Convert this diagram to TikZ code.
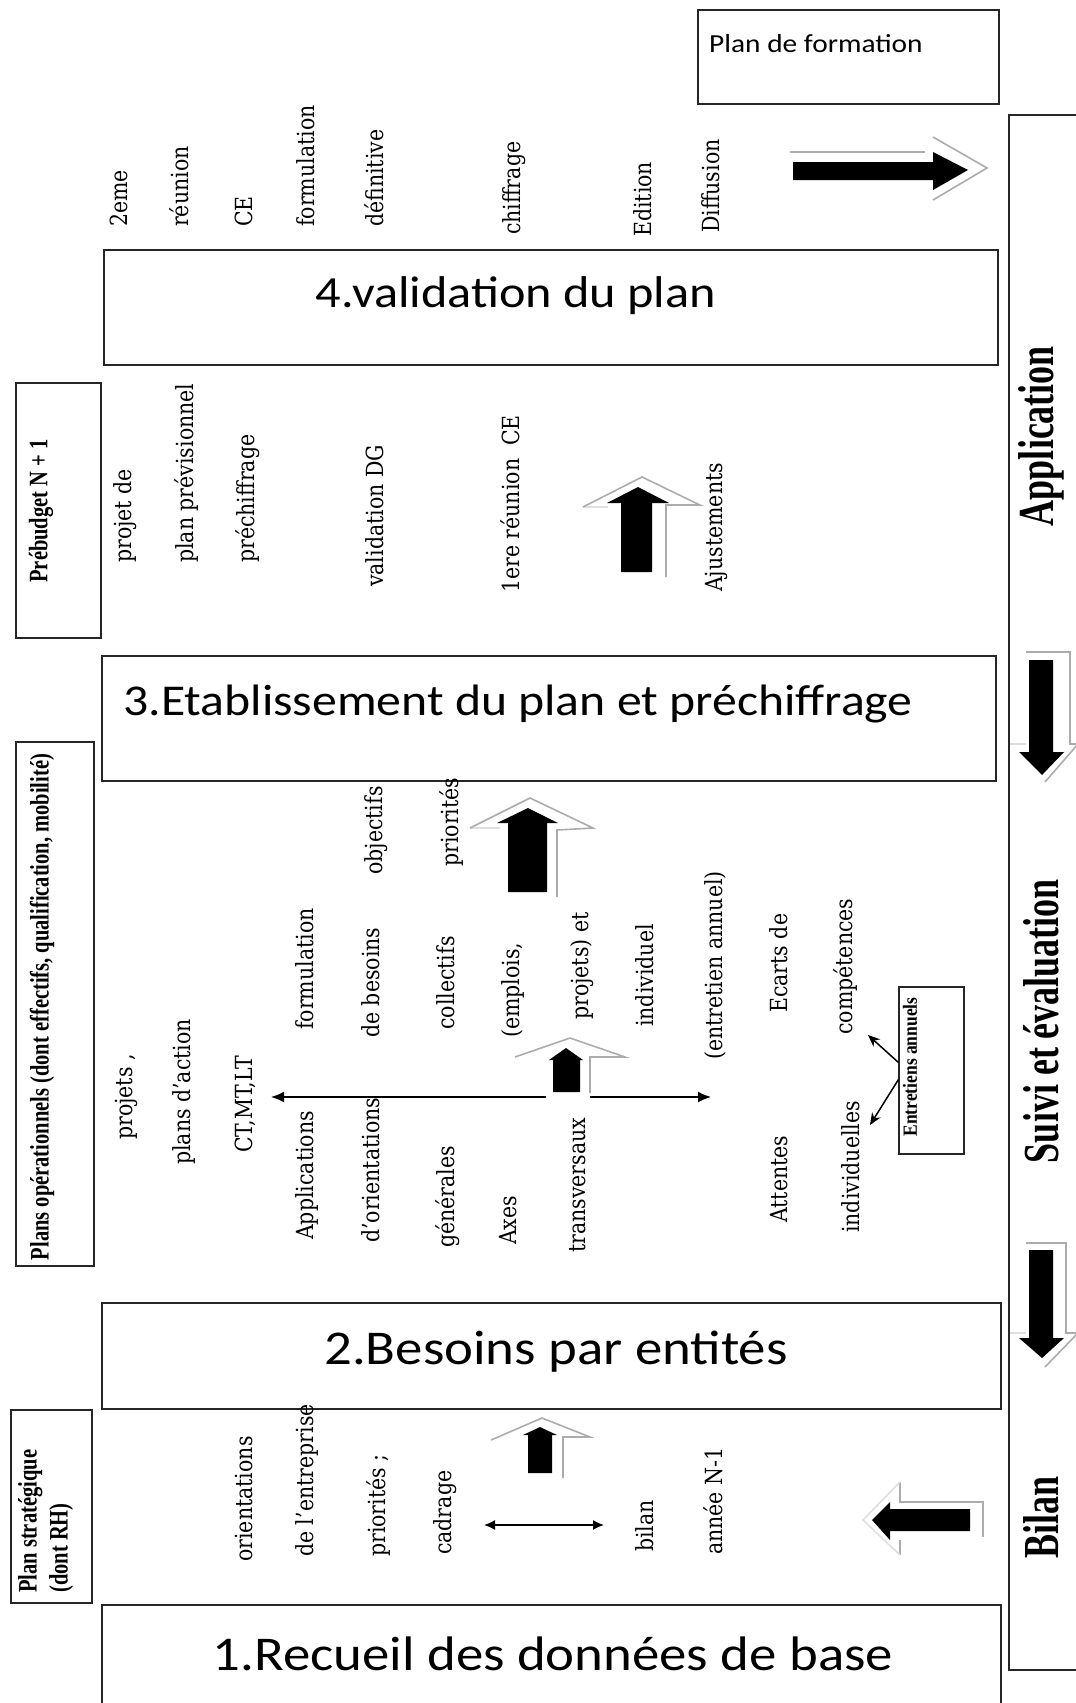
\documentclass[tikz,border=0pt]{standalone}
\usepackage{graphicx}
\usepackage{fontspec}
\setmainfont{DejaVu Serif}
\newfontfamily\calibfont{Carlito}
\newfontfamily\timesfont{Liberation Serif}
\usetikzlibrary{arrows.meta}
\newcommand\vst[1]{\scalebox{1}[1.15]{#1}}
\newcommand\hst[1]{\scalebox{1.13}[1]{#1}}

\begin{document}
\begin{tikzpicture}[x=1pt,y=-1pt,
	frame/.style={draw=black!85, line width=1.3pt},
	title/.style={inner sep=0pt},
	vtxt/.style={xshift=6pt, rotate=90, anchor=mid west, inner sep=0pt, font=\fontsize{20.5}{23}\selectfont},
	blabel/.style={rotate=90, inner sep=0pt, font=\timesfont\bfseries\fontsize{20.5}{23}\selectfont},
	blk/.style={fill=black},
	shadow/.style={draw=gray!65, line width=1.6pt},
	pale/.style={draw=gray!25, line width=1.6pt},
	link/.style={line width=1.5pt, -{Latex[length=13pt,width=11pt]}},
	dlink/.style={line width=1.4pt, {Latex[length=11pt,width=10pt]}-{Latex[length=11pt,width=10pt]}}]
	
	\useasboundingbox (0,0) rectangle (1076,1703);
	\clip (0,0) rectangle (1076,1703);
	
	% frames
	\draw[frame] (698,10) rectangle (999,104);
	\draw[frame] (1009,115) rectangle (1100,1670);
	\draw[frame] (104,250) rectangle (998,365);
	\draw[frame] (102,656) rectangle (996,781);
	\draw[frame] (102,1303) rectangle (1001,1409);
	\draw[frame] (102,1605) rectangle (1001,1720);
	\draw[frame] (16,383) rectangle (101,638);
	\draw[frame] (16,742) rectangle (94,1266);
	\draw[frame] (11,1410) rectangle (92,1603);
	
	% box titles
	\node[anchor=west, inner sep=0pt, font=\calibfont\fontsize{26}{29}\selectfont] (formation) at (709,44) {\hst{Plan de formation}};
	\node[title, font=\calibfont\fontsize{44.5}{48}\selectfont] (valid) at (516,296) {\hst{4.validation du plan}};
	\node[title, font=\calibfont\fontsize{44}{48}\selectfont] (etab) at (518,704) {\hst{3.Etablissement du plan et préchiffrage}};
	\node[title, font=\calibfont\fontsize{48.5}{52}\selectfont] (besoins) at (556,1352) {\hst{2.Besoins par entités}};
	\node[title, font=\calibfont\fontsize{48.5}{52}\selectfont] (recueil) at (553,1654) {\hst{1.Recueil des données de base}};
	
	% side labels
	\node[blabel] (prebud) at (41,511) {\scalebox{1}[1.3]{Prébudget N + 1}};
	\node[blabel] (plansop) at (42,1007) {\scalebox{1}[1.3]{Plans opérationnels (dont effectifs, qualification, mobilité)}};
	\node[blabel, anchor=mid west] (planstrat) at (34,1593) {\scalebox{1}[1.3]{Plan stratégique}};
	\node[blabel, anchor=mid west] (dontrh) at (65,1593) {\scalebox{1}[1.3]{(dont RH)}};
	\node[blabel, font=\timesfont\bfseries\fontsize{36}{40}\selectfont] (appl) at (1041,436) {\scalebox{1}[1.4]{Application}};
	\node[blabel, font=\timesfont\bfseries\fontsize{36}{40}\selectfont] (suivi) at (1041,1021) {\scalebox{1}[1.4]{Suivi et évaluation}};
	\node[blabel, font=\timesfont\bfseries\fontsize{36}{40}\selectfont] (bilanlab) at (1041,1517) {\scalebox{1}[1.4]{Bilan}};
	
	% validation
	\node[vtxt] (deux) at (119,227) {\vst{2eme}};
	\node[vtxt] (reun) at (180,227) {\vst{réunion}};
	\node[vtxt] (ce) at (244,227) {\vst{CE}};
	\node[vtxt] (formul) at (306,227) {\vst{formulation}};
	\node[vtxt] (defin) at (375,227) {\vst{définitive}};
	\node[vtxt] (chiff) at (512,235) {\vst{chiffrage}};
	\node[vtxt] (edit) at (643,237) {\vst{Edition}};
	\node[vtxt] (diff) at (711,233) {\vst{Diffusion}};
	
	% prebudget
	\node[vtxt] (projde) at (123,563) {\vst{projet de}};
	\node[vtxt] (planprev) at (185,563) {\vst{plan prévisionnel}};
	\node[vtxt] (prechiff) at (246,563) {\vst{préchiffrage}};
	\node[vtxt] (valdg) at (375,587) {\vst{validation DG}};
	\node[vtxt] (premreun) at (511,593) {\vst{1ere réunion\ \ CE}};
	\node[vtxt] (ajust) at (714,592) {\vst{Ajustements}};
	
	% plans operationnels
	\node[vtxt] (projets) at (124,1140) {\vst{projets ,}};
	\node[vtxt] (plact) at (182,1165) {\vst{plans d’action}};
	\node[vtxt] (ctmt) at (244,1153) {\vst{CT,MT,LT}};
	\node[vtxt] (applic) at (305,1240) {\vst{Applications}};
	\node[vtxt] (dorient) at (371,1243) {\vst{d’orientations}};
	\node[vtxt] (gener) at (446,1248) {\vst{générales}};
	\node[vtxt] (axes) at (508,1245) {\vst{Axes}};
	\node[vtxt] (transv) at (577,1253) {\vst{transversaux}};
	\node[vtxt] (formul2) at (305,1030) {\vst{formulation}};
	\node[vtxt] (debes) at (371,1038) {\vst{de besoins}};
	\node[vtxt] (collec) at (446,1030) {\vst{collectifs}};
	\node[vtxt] (emplois) at (511,1038) {\vst{(emplois,}};
	\node[vtxt] (projet2) at (580,1020) {\vst{projets) et}};
	\node[vtxt] (indiv) at (645,1027) {\vst{individuel}};
	\node[vtxt] (entann) at (714,1060) {\vst{(entretien annuel)}};
	\node[vtxt] (objec) at (374,875) {\vst{objectifs}};
	\node[vtxt] (prior) at (450,867) {\vst{priorités}};
	\node[vtxt] (ecarts) at (779,1013) {\vst{Ecarts de}};
	\node[vtxt] (compet) at (844,1035) {\vst{compétences}};
	\node[vtxt] (attent) at (779,1223) {\vst{Attentes}};
	\node[vtxt] (indivs) at (851,1233) {\vst{individuelles}};
	
	\node[draw=black!85, line width=1.1pt, minimum width=65pt, minimum height=167pt, inner sep=0pt] (ent) at (931.5,1070.5) {};
	\node[blabel, font=\timesfont\bfseries\fontsize{17.5}{20}\selectfont] (enttxt) at (910,1067) {\scalebox{1}[1.15]{Entretiens annuels}};
	\coordinate (ecomp) at (868,1035);
	\coordinate (eindiv) at (870,1125);
	\draw[link, -{Stealth[length=12pt,width=10pt]}] ([yshift=8pt]ent.west) -- (ecomp);
	\draw[link, -{Stealth[length=12pt,width=10pt]}] ([yshift=-9pt]ent.west) -- (eindiv);
	
	\coordinate (hleft) at (271,1097);
	\coordinate (hright) at (711,1097);
	\coordinate (hmida) at (546,1097);
	\coordinate (hmidb) at (590,1097);
	\draw[link] (hmida) -- (hleft);
	\draw[link] (hmidb) -- (hright);
	
	% base
	\node[vtxt] (orient) at (244,1562) {\vst{orientations}};
	\node[vtxt] (delent) at (305,1557) {\vst{de l’entreprise}};
	\node[vtxt] (prior2) at (377,1557) {\vst{priorités ;}};
	\node[vtxt] (cadr) at (443,1555) {\vst{cadrage}};
	\node[vtxt] (bilan) at (645,1552) {\vst{bilan}};
	\node[vtxt] (anneen) at (714,1555) {\vst{année N-1}};
	\coordinate (dla) at (484,1525);
	\coordinate (dlb) at (604,1525);
	\draw[dlink] (dla) -- (dlb);
	
	% block arrows
	\draw[pale] (583,507)--(608,507);
	\draw[shadow] (666,577)--(666,505)--(700,505)--(642,477)--(583,507);
	\fill[blk] (621,572)--(621,503)--(607,503)--(638,487)--(669,503)--(652,503)--(652,572)--cycle;
	
	\draw[pale] (470,828)--(500,828);
	\draw[shadow] (557,897)--(557,830)--(593,828)--(530,798)--(470,828);
	\fill[blk] (508,892)--(508,823)--(497,823)--(528,808)--(558,823)--(547,823)--(547,892)--cycle;
	
	\draw[shadow] (590,1093)--(590,1057)--(625,1057)--(570,1038)--(515,1057);
	\fill[blk] (553,1092)--(553,1060)--(549,1060)--(566,1048)--(583,1060)--(580,1060)--(580,1092)--cycle;
	
	\draw[shadow] (563,1478)--(563,1437)--(590,1437)--(542,1418)--(491,1440);
	\fill[blk] (528,1473)--(528,1435)--(523,1435)--(540,1427)--(557,1435)--(552,1435)--(552,1473)--cycle;
	
	\draw[pale] (1010,744)--(1026,744);
	\draw[shadow] (1026,652)--(1070,652)--(1070,744)--(1078,744)--(1045,782);
	\fill[blk] (1029,660)--(1053,660)--(1053,752)--(1064,752)--(1042,775)--(1019,752)--(1029,752)--cycle;
	
	\draw[pale] (1010,1333)--(1026,1333);
	\draw[shadow] (1026,1243)--(1066,1243)--(1066,1333)--(1078,1333)--(1045,1367);
	\fill[blk] (1029,1250)--(1053,1250)--(1053,1338)--(1064,1338)--(1042,1358)--(1019,1338)--(1029,1338)--cycle;
	
	\draw[shadow] (790,152)--(925,152);
	\draw[shadow] (933,137)--(987,168)--(933,200);
	\fill[blk] (793,162)--(933,162)--(933,152)--(968,170)--(933,190)--(933,180)--(793,180)--cycle;
	
	\draw[shadow] (900,1482)--(900,1502)--(983,1502)--(983,1537);
	\draw[shadow] (900,1540)--(900,1555);
	\draw[pale] (900,1482)--(863,1520)--(900,1555);
	\fill[blk] (970,1509)--(890,1509)--(890,1502)--(872,1520)--(890,1540)--(890,1531)--(970,1531)--cycle;
	
\end{tikzpicture}
\end{document}
